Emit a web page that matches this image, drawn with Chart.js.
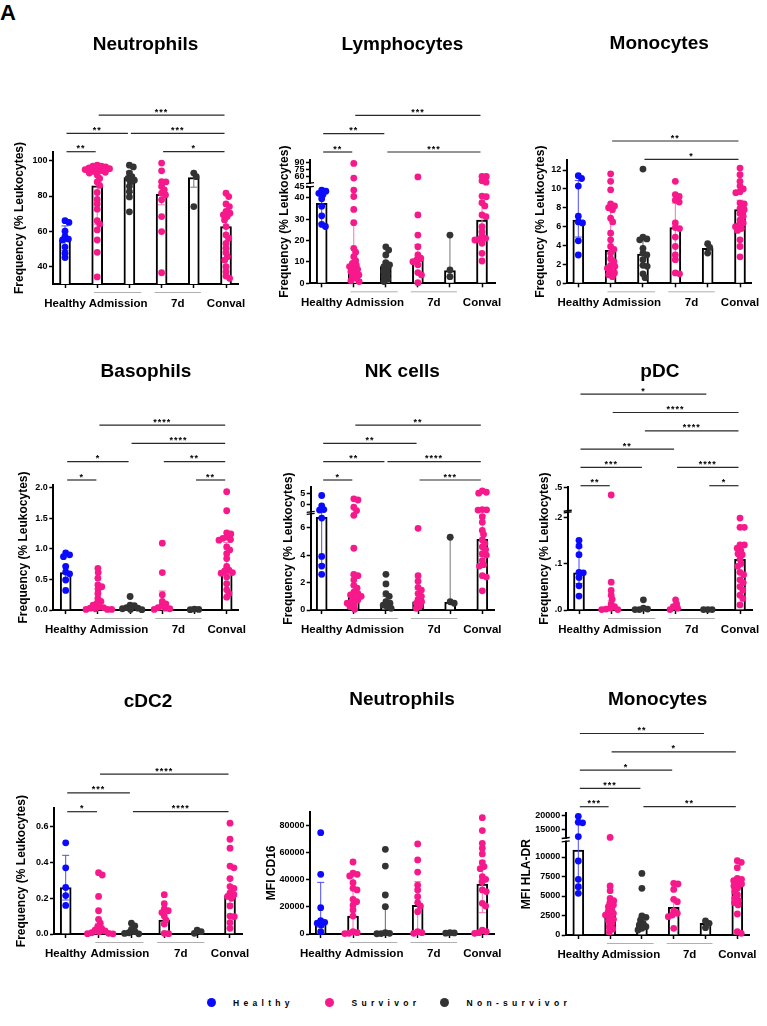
<!DOCTYPE html>
<html><head><meta charset="utf-8">
<script src="https://cdn.jsdelivr.net/npm/chart.js@4.4.1/dist/chart.umd.min.js"></script>
<style>
html,body{margin:0;padding:0;background:#fff;}
body{width:767px;height:1026px;position:relative;overflow:hidden;font-family:"Liberation Sans",Arial,Helvetica,sans-serif;}
#panelLabel{position:absolute;left:0;top:2px;font-weight:bold;font-size:22px;line-height:21px;}
.lg{position:absolute;font-weight:bold;font-size:8.5px;letter-spacing:4.3px;line-height:16px;white-space:nowrap;}
.dot{position:absolute;width:9px;height:9px;border-radius:50%;}
</style></head>
<body>
<div id="panelLabel">A</div>
<div class="dot" style="left:207px;top:998px;background:#0a0aff"></div>
<div class="lg" style="left:233px;top:995px">Healthy</div>
<div class="dot" style="left:324.5px;top:998px;background:#f7198b"></div>
<div class="lg" style="left:351.5px;top:995px">Survivor</div>
<div class="dot" style="left:440px;top:998px;background:#333333"></div>
<div class="lg" style="left:466.5px;top:995px">Non-survivor</div>
<script>
// ---------- categories ----------
const groupNames = ['Healthy', 'Admission survivor', 'Admission non-survivor', '7d survivor', '7d non-survivor', 'Conval'];
const xTickValues = [0, 1, 1.65, 2, 3, 3.5, 4, 5];
const xTickLabels = ['Healthy', '', 'Admission', '', '', '7d', '', 'Conval'];
const groupColors = ['#0a0aff', '#f7198b', '#333333', '#f7198b', '#333333', '#f7198b'];
const errColors = ['#4a4aff', '#ff6fb0', '#666666', '#ff6fb0', '#777777', '#ff6fb0'];

// ---------- Neutrophils (frequency) ----------
const neuPoints = [
  [66, 65, 60, 57, 55.5, 55, 51, 47.5, 45],
  [97.5, 97, 97, 96.5, 96, 95.5, 95, 95, 94.5, 94, 93.5, 93, 92, 90, 88, 86, 82, 78, 75.5, 72.5, 66, 64, 60.7, 55, 48, 34],
  [97.5, 96.5, 93, 91, 90, 89, 88, 85.5, 82.5, 79.5, 71],
  [98.7, 94.3, 88.2, 88, 85.4, 83.5, 81.6, 80.6, 77.8, 68.3, 59.8, 36.4],
  [93, 91, 74],
  [81.6, 79.7, 75.5, 74, 71.2, 70.2, 69.3, 68.3, 66.4, 62.6, 57.9, 56, 53, 50.3, 47.8, 45.5, 43.6, 39.8, 37, 34.5, 33.2]
];
const neuMedians = [55, 85.8, 90.5, 81, 90.5, 62.6];
const neuErrors = [[49, 63], [64, 95], [82, 94], [75, 88], [85, 93], [50, 68]];
const neuTicks = [40, 60, 80, 100];
const neuTickLabels = ['40', '60', '80', '100'];
const neuBrackets = [[0, 1, '**', 0], [3, 5, '*', 0], [0, 2, '**', 1], [2, 5, '***', 1], [1, 5, '***', 2]];

// ---------- Lymphocytes ----------
const lymPoints = [
  [43.5, 43, 42, 41.5, 39.5, 36, 31.5, 27.5, 26.5],
  [88.5, 56, 43.5, 40.5, 34.5, 28.3, 16.3, 14.5, 12.4, 10.6, 9.3, 8.5, 7.8, 7, 6.5, 5.4, 4.7, 3.9, 3.1, 2.3, 1.2, 0.8],
  [17, 15.5, 13.2, 9.6, 8.6, 7.8, 6.5, 5.4, 4.4, 3.1, 1.9, 0.8],
  [58.5, 31.9, 22.5, 17.1, 13.2, 11.7, 10.9, 10.1, 8.6, 5, 3.9, 0.3],
  [22.5, 6.2, 3.1],
  [60, 59.5, 50, 47, 40.7, 40.4, 37.6, 36.1, 31.9, 31.1, 26.4, 24.1, 22, 21, 20.5, 20.2, 18.7, 14, 10.4]
];
const lymMedians = [37.3, 7.8, 7.8, 10.9, 5.9, 29.5];
const lymErrors = [[28, 43], [3, 28], [4, 10], [8, 18], [3, 22.5], [20, 37]];
const lymTicks = [0, 10, 20, 30, 40, 45, 60, 75, 90];
const lymTickLabels = ['0', '10', '20', '30', '40', '45', '60', '75', '90'];
const lymBrackets = [[0, 1, '**', 0], [2, 5, '***', 0], [0, 2, '**', 1], [1, 5, '***', 2]];

// ---------- Monocytes (frequency) ----------
const monPoints = [
  [11.4, 11.1, 10.3, 7.1, 6.5, 6.4, 4.5, 3],
  [11.6, 10.8, 9.9, 8.4, 8.2, 8, 7.8, 6.9, 6.5, 5.3, 4.6, 3.9, 3.6, 3.2, 2.6, 2.3, 1.9, 1.8, 1.6, 1.3, 1.1, 0.9, 0.7],
  [12.1, 4.9, 4.7, 4.6, 3.7, 3.2, 3, 2.5, 1.9, 1.8, 1, 0.6],
  [10.8, 9.4, 9.2, 8.8, 8.6, 6.4, 5.9, 5.8, 4.9, 3.9, 3, 2.5, 1.1, 1],
  [4.2, 3.8, 3.2],
  [12.2, 11.5, 10.8, 10.3, 10, 9.7, 9.6, 8.5, 8.4, 7.9, 7.8, 7.4, 7.1, 6.7, 6.4, 6.2, 6, 5.8, 5.6, 4.6, 3.9, 2.8]
];
const monMedians = [6.7, 3.5, 3.1, 5.9, 3.7, 7.8];
const monErrors = [[4.9, 10.9], [1.7, 8], [1.9, 4.5], [2.5, 8.5], [3.2, 4.1], [6, 8.8]];
const monTicks = [0, 2, 4, 6, 8, 10, 12];
const monTickLabels = ['0', '2', '4', '6', '8', '10', '12'];
const monBrackets = [[2, 5, '*', 0], [1, 5, '**', 1]];

// ---------- Basophils ----------
const basPoints = [
  [0.93, 0.9, 0.87, 0.71, 0.62, 0.59, 0.49, 0.32],
  [0.68, 0.61, 0.52, 0.41, 0.38, 0.34, 0.27, 0.19, 0.14, 0.11, 0.08, 0.05, 0.04, 0.03, 0.02, 0.01, 0.01, 0.01],
  [0.22, 0.08, 0.07, 0.04, 0.03, 0.02, 0.01, 0.005],
  [1.09, 0.61, 0.25, 0.14, 0.1, 0.07, 0.04, 0.03, 0.02, 0.01],
  [0.015, 0.01, 0.005],
  [1.93, 1.62, 1.26, 1.24, 1.19, 1.17, 1.15, 1.14, 1.03, 0.98, 0.92, 0.84, 0.71, 0.65, 0.64, 0.61, 0.6, 0.54, 0.43, 0.33, 0.27, 0.21]
];
const basMedians = [0.61, 0.05, 0.03, 0.06, 0.01, 0.65];
const basErrors = [[0.5, 0.72], [0.01, 0.35], [0.01, 0.06], [0.01, 0.31], [0.005, 0.015], [0.6, 1.1]];
const basTicks = [0, 0.5, 1, 1.5, 2];
const basTickLabels = ['0.0', '0.5', '1.0', '1.5', '2.0'];
const basBrackets = [[0, 1, '*', 0], [4, 5, '**', 0], [0, 2, '*', 1], [3, 5, '**', 1], [2, 5, '****', 2], [1, 5, '****', 3]];

// ---------- NK cells ----------
const nkPoints = [
  [14, 9.6, 8, 7.8, 6.7, 3.9, 3.2, 2.6],
  [12.6, 12.1, 9, 7.6, 6.9, 4.5, 2.6, 2.5, 2.2, 1.8, 1.6, 1.3, 1.2, 1.1, 1, 0.85, 0.73, 0.6, 0.49, 0.36, 0.24, 0.05],
  [2.6, 1.9, 1.2, 1, 0.6, 0.49, 0.36, 0.24, 0.12],
  [5.95, 2.5, 2.1, 1.65, 1.45, 1.2, 1, 0.78, 0.6, 0.49, 0.3, 0.12],
  [5.3, 0.6, 0.49],
  [16, 15.4, 15, 8, 7.9, 7.8, 6.8, 6.4, 5.8, 5.5, 5.1, 4.85, 4.6, 4.4, 4.1, 4, 3.6, 3.3, 3.2, 2.5, 2.4, 1.4]
];
const nkMedians = [6.75, 1.2, 0.44, 0.6, 0.56, 5.15];
const nkErrors = [[3.3, 8], [0.5, 2.5], [0.24, 1], [0.3, 1.5], [0.49, 5.3], [3.9, 6.9]];
const nkTicks = [0, 2, 4, 6, 10, 15];
const nkTickLabels = ['0', '2', '4', '6', '0', '5'];
const nkBrackets = [[0, 1, '*', 0], [3, 5, '***', 0], [0, 2, '**', 1], [2, 5, '****', 1], [0, 3, '**', 2], [1, 5, '**', 3]];

// ---------- pDC ----------
const pdcPoints = [
  [0.15, 0.138, 0.119, 0.081, 0.08, 0.07, 0.052, 0.03],
  [0.405, 0.06, 0.042, 0.032, 0.023, 0.013, 0.007, 0.004, 0.002, 0.001, 0.001],
  [0.022, 0.004, 0.002, 0.001, 0.001],
  [0.022, 0.013, 0.007, 0.004, 0.001],
  [0.001, 0.001, 0.001],
  [0.198, 0.178, 0.178, 0.14, 0.14, 0.133, 0.128, 0.121, 0.119, 0.109, 0.1, 0.094, 0.081, 0.076, 0.065, 0.059, 0.05, 0.043, 0.032, 0.025, 0.011]
];
const pdcMedians = [0.08, 0.005, 0.002, 0.003, 0.001, 0.109];
const pdcErrors = [[0.057, 0.135], [0.001, 0.02], [0.001, 0.004], [0.001, 0.007], [0.001, 0.001], [0.093, 0.125]];
const pdcTicks = [0, 0.1, 0.2, 0.5];
const pdcTickLabels = ['.0', '.1', '.2', '.5'];
const pdcBrackets = [[0, 1, '**', 0], [4, 5, '*', 0], [0, 2, '***', 1], [3, 5, '****', 1], [0, 3, '**', 2], [2, 5, '****', 3], [1, 5, '****', 4], [0, 4, '*', 5]];

// ---------- cDC2 ----------
const cdcPoints = [
  [0.51, 0.37, 0.26, 0.215, 0.16],
  [0.343, 0.33, 0.21, 0.13, 0.082, 0.06, 0.041, 0.032, 0.022, 0.017, 0.013, 0.007, 0.004, 0.002, 0.001],
  [0.06, 0.045, 0.026, 0.013, 0.007, 0.003, 0.001],
  [0.22, 0.17, 0.14, 0.13, 0.12, 0.1, 0.078, 0.056, 0.004, 0.002],
  [0.022, 0.013, 0.004],
  [0.62, 0.53, 0.48, 0.38, 0.37, 0.31, 0.265, 0.255, 0.23, 0.22, 0.21, 0.2, 0.157, 0.1, 0.097, 0.063, 0.032]
];
const cdcMedians = [0.26, 0.012, 0.005, 0.078, 0.01, 0.215];
const cdcErrors = [[0.19, 0.44], [0.002, 0.06], [0.001, 0.02], [0.05, 0.13], [0.004, 0.013], [0.17, 0.31]];
const cdcTicks = [0, 0.2, 0.4, 0.6];
const cdcTickLabels = ['0.0', '0.2', '0.4', '0.6'];
const cdcBrackets = [[0, 1, '*', 0], [2, 5, '****', 0], [0, 2, '***', 1], [1, 5, '****', 2]];

// ---------- Neutrophils MFI CD16 ----------
const cd16Points = [
  [74600, 43900, 19400, 9800, 8600, 7900, 6600, 1700],
  [53000, 44700, 43900, 42700, 37800, 33600, 32400, 25500, 23800, 21300, 17700, 13200, 1700, 1000, 500, 300],
  [62300, 50000, 28700, 20100, 1000, 500, 300, 200],
  [66300, 54500, 45600, 36000, 32400, 27500, 23100, 20600, 16400, 1700, 1000, 500],
  [1000, 800, 600],
  [85600, 76100, 66700, 63100, 58900, 52500, 49600, 48100, 42200, 40200, 38500, 32400, 31200, 22600, 20600, 2900, 1700, 1000, 500]
];
const cd16Medians = [8300, 13200, 500, 21100, 800, 36800];
const cd16Errors = [[5000, 38000], [1000, 43000], [300, 20000], [2000, 38500], [600, 1000], [15700, 53700]];
const cd16Ticks = [0, 20000, 40000, 60000, 80000];
const cd16TickLabels = ['0', '20000', '40000', '60000', '80000'];
const cd16Brackets = [];

// ---------- Monocytes MFI HLA-DR ----------
const hlaPoints = [
  [19550, 17500, 17270, 12500, 9490, 7140, 6200, 5340],
  [12200, 6280, 5680, 4700, 4400, 4150, 3850, 3630, 3290, 2990, 2780, 2560, 2350, 2010, 1840, 1500, 1070, 770, 430],
  [7900, 5980, 2440, 2260, 1920, 1500, 1280, 1070, 850, 640],
  [6620, 6540, 5850, 4570, 4270, 3080, 2780, 2560, 2350, 850],
  [1800, 1500, 940],
  [9530, 9320, 8630, 7260, 7140, 6960, 6620, 6540, 6280, 5980, 5560, 5130, 4700, 4400, 4150, 3850, 2690, 430, 210]
];
const hlaMedians = [10900, 2560, 1410, 3550, 1500, 6110];
const hlaErrors = [[6000, 17500], [1700, 3900], [800, 2300], [2800, 4500], [940, 1800], [4400, 6900]];
const hlaTicks = [0, 2500, 5000, 7500, 10000, 15000, 20000];
const hlaTickLabels = ['0', '2500', '5000', '7500', '10000', '15000', '20000'];
const hlaBrackets = [[0, 1, '***', 0], [2, 5, '**', 0], [0, 2, '***', 1], [0, 3, '*', 2], [1, 5, '*', 3], [0, 4, '**', 4]];

// ---------- layout (pixels) ----------
const colX = [0, 250, 505], colW = [250, 255, 262];
const rowY = [0, 318, 645], rowH = [318, 327, 345];
const FREQ = 'Frequency (% Leukocytes)';

const panels = [
  {id: 'neu', title: 'Neutrophils', yTitle: FREQ, col: 0, row: 0, titleY: 45, yTitleX: 20, axisX: 53, axisRight: 238, healthyX: 65, convalX: 226, areaTop: 152, areaBottom: 284, yMin: 30, yMax: 105,
   points: neuPoints, medians: neuMedians, errors: neuErrors, ticks: neuTicks, tickLabels: neuTickLabels, brackets: neuBrackets, bracketBase: 151.7, bracketGap: 18.3},
  {id: 'lym', title: 'Lymphocytes', yTitle: FREQ, col: 1, row: 0, titleY: 45, yTitleX: 285, axisX: 310, axisRight: 495, healthyX: 321.7, convalX: 482, areaTop: 160, areaBottom: 283.3,
   segments: [[0, 45, 0, 0.782], [45, 96, 0.813, 1]],
   points: lymPoints, medians: lymMedians, errors: lymErrors, ticks: lymTicks, tickLabels: lymTickLabels, brackets: lymBrackets, bracketBase: 152, bracketGap: 18.3},
  {id: 'mon', title: 'Monocytes', yTitle: FREQ, col: 2, row: 0, titleY: 44, yTitleX: 541, axisX: 566.7, axisRight: 751.7, healthyX: 578.3, convalX: 740, areaTop: 160, areaBottom: 283.3, yMin: 0, yMax: 13.06,
   points: monPoints, medians: monMedians, errors: monErrors, ticks: monTicks, tickLabels: monTickLabels, brackets: monBrackets, bracketBase: 159.3, bracketGap: 18.3},
  {id: 'bas', title: 'Basophils', yTitle: FREQ, col: 0, row: 1, titleY: 371.7, yTitleX: 23.3, axisX: 53.3, axisRight: 238.7, healthyX: 65.7, convalX: 226.7, areaTop: 485, areaBottom: 610, yMin: 0, yMax: 2.04,
   points: basPoints, medians: basMedians, errors: basErrors, ticks: basTicks, tickLabels: basTickLabels, brackets: basBrackets, bracketBase: 480, bracketGap: 18.3},
  {id: 'nk', title: 'NK cells', yTitle: FREQ, col: 1, row: 1, titleY: 371.7, yTitleX: 288.3, axisX: 310.7, axisRight: 494, healthyX: 321.7, convalX: 482.3, areaTop: 487.3, areaBottom: 610,
   segments: [[0, 7, 0, 0.783], [7, 17.5, 0.799, 1]],
   points: nkPoints, medians: nkMedians, errors: nkErrors, ticks: nkTicks, tickLabels: nkTickLabels, brackets: nkBrackets, bracketBase: 480, bracketGap: 18.3},
  {id: 'pdc', title: 'pDC', yTitle: FREQ, col: 2, row: 1, titleY: 371.7, yTitleX: 545, axisX: 567.7, axisRight: 752, healthyX: 579, convalX: 740, areaTop: 487.3, areaBottom: 610,
   segments: [[0, 0.21, 0, 0.795], [0.21, 0.5, 0.809, 1]],
   points: pdcPoints, medians: pdcMedians, errors: pdcErrors, ticks: pdcTicks, tickLabels: pdcTickLabels, brackets: pdcBrackets, bracketBase: 485.7, bracketGap: 18.3},
  {id: 'cdc', title: 'cDC2', yTitle: FREQ, col: 0, row: 2, titleY: 701.7, yTitleX: 21.7, axisX: 54, axisRight: 242, healthyX: 65.7, convalX: 230, areaTop: 808.3, areaBottom: 934, yMin: 0, yMax: 0.703,
   points: cdcPoints, medians: cdcMedians, errors: cdcErrors, ticks: cdcTicks, tickLabels: cdcTickLabels, brackets: cdcBrackets, bracketBase: 811.7, bracketGap: 18.8},
  {id: 'cd16', title: 'Neutrophils', yTitle: 'MFI CD16', col: 1, row: 2, titleY: 700, yTitleX: 271.7, axisX: 310, axisRight: 494, healthyX: 320.7, convalX: 482.3, areaTop: 811.7, areaBottom: 934, yMin: 0, yMax: 90000,
   points: cd16Points, medians: cd16Medians, errors: cd16Errors, ticks: cd16Ticks, tickLabels: cd16TickLabels, brackets: cd16Brackets, bracketBase: 800, bracketGap: 18.3},
  {id: 'hla', title: 'Monocytes', yTitle: 'MFI HLA-DR', col: 2, row: 2, titleY: 700, yTitleX: 526.7, axisX: 565.7, axisRight: 749.5, healthyX: 578.3, convalX: 737.3, areaTop: 813.3, areaBottom: 935,
   segments: [[0, 12000, 0, 0.769], [12000, 20600, 0.797, 1]],
   points: hlaPoints, medians: hlaMedians, errors: hlaErrors, ticks: hlaTicks, tickLabels: hlaTickLabels, brackets: hlaBrackets, bracketBase: 806.7, bracketGap: 18.3}
];

// ---------- library setup ----------
const FONT = '"Liberation Sans", Arial, Helvetica, sans-serif';
Chart.defaults.font.family = FONT;
Chart.defaults.color = '#000';
const panelById = {};
const POINT_R = 3.4;

class BrokenScale extends Chart.LinearScale {
  static id = 'broken';
  static defaults = Chart.LinearScale.defaults;
  _segs() { return panelById[this.chart.canvas.id].segments; }
  getPixelForValue(value) {
    if (value === null || value === undefined || isNaN(value)) return NaN;
    const segs = this._segs();
    let s = segs[segs.length - 1];
    for (const seg of segs) { if (value <= seg[1]) { s = seg; break; } }
    const dec = s[2] + (value - s[0]) / (s[1] - s[0]) * (s[3] - s[2]);
    return this.getPixelForDecimal(dec);
  }
  getValueForPixel(pixel) {
    const dec = this.getDecimalForPixel(pixel);
    const segs = this._segs();
    let s = segs[segs.length - 1];
    for (const seg of segs) { if (dec <= seg[3]) { s = seg; break; } }
    return s[0] + (dec - s[2]) / (s[3] - s[2]) * (s[1] - s[0]);
  }
}
Chart.register(BrokenScale);

const overlayPlugin = {
  id: 'overlay',
  afterDatasetDraw(chart, args) {
    if (args.index !== 0) return;
    const p = panelById[chart.canvas.id];
    const ctx = chart.ctx, xs = chart.scales.x, ys = chart.scales.y;
    ctx.save();
    ctx.lineWidth = 1;
    p.errors.forEach(([lo, hi], g) => {
      const x = xs.getPixelForValue(g), y1 = ys.getPixelForValue(lo), y2 = ys.getPixelForValue(hi);
      ctx.strokeStyle = errColors[g];
      ctx.beginPath();
      ctx.moveTo(x, y1); ctx.lineTo(x, y2);
      ctx.moveTo(x - 3.5, y1); ctx.lineTo(x + 3.5, y1);
      ctx.moveTo(x - 3.5, y2); ctx.lineTo(x + 3.5, y2);
      ctx.stroke();
    });
    ctx.restore();
  },
  afterDraw(chart) {
    const p = panelById[chart.canvas.id];
    const ctx = chart.ctx, xs = chart.scales.x, ys = chart.scales.y;
    const y0 = rowY[p.row];
    const area = chart.chartArea;
    ctx.save();
    // group underline (Admission / 7d)
    ctx.strokeStyle = '#b0b0b0'; ctx.lineWidth = 1;
    [[0.9, 2.37], [2.78, 4.22]].forEach(([a, b]) => {
      ctx.beginPath();
      ctx.moveTo(xs.getPixelForValue(a), area.bottom + 8.5);
      ctx.lineTo(xs.getPixelForValue(b), area.bottom + 8.5);
      ctx.stroke();
    });
    // axis breaks
    if (p.segments) {
      for (let i = 0; i < p.segments.length - 1; i++) {
        const yA = ys.getPixelForDecimal(p.segments[i][3]);
        const yB = ys.getPixelForDecimal(p.segments[i + 1][2]);
        ctx.fillStyle = '#fff';
        ctx.fillRect(area.left - 2, yB + 0.8, 4, yA - yB - 1.6);
        ctx.strokeStyle = '#000'; ctx.lineWidth = 1.3;
        ctx.beginPath();
        ctx.moveTo(area.left - 4, yA + 0.5); ctx.lineTo(area.left + 4, yA - 0.5);
        ctx.moveTo(area.left - 4, yB + 0.5); ctx.lineTo(area.left + 4, yB - 0.5);
        ctx.stroke();
      }
    }
    // significance brackets
    ctx.strokeStyle = '#2a2a2a'; ctx.lineWidth = 1.2;
    ctx.fillStyle = '#000';
    ctx.font = 'bold 9px ' + FONT;
    ctx.textAlign = 'center'; ctx.textBaseline = 'alphabetic';
    if ('letterSpacing' in ctx) ctx.letterSpacing = '1px';
    p.brackets.forEach(([a, b, label, level]) => {
      const y = p.bracketBase - y0 - level * p.bracketGap;
      const xa = xs.getPixelForValue(a) + 1.5, xb = xs.getPixelForValue(b) - 1.5;
      ctx.beginPath(); ctx.moveTo(xa, y); ctx.lineTo(xb, y); ctx.stroke();
      ctx.fillText(label, (xa + xb) / 2, y - 0.5);
    });
    ctx.restore();
  }
};

function makeChart(p) {
  panelById[p.id] = p;
  const W = colW[p.col], H = rowH[p.row], x0 = colX[p.col], y0 = rowY[p.row];
  const canvas = document.createElement('canvas');
  canvas.id = p.id; canvas.width = W; canvas.height = H;
  canvas.style.cssText = `position:absolute;left:${x0}px;top:${y0}px;width:${W}px;height:${H}px`;
  document.body.appendChild(canvas);
  const step = (p.convalX - p.healthyX) / 5;
  const xMin = -(p.healthyX - p.axisX) / step, xMax = (p.axisRight - p.healthyX) / step;
  const titleRel = p.titleY - y0, areaTopRel = p.areaTop - y0, areaBottomRel = p.areaBottom - y0;
  const yMin = p.segments ? p.segments[0][0] : p.yMin;
  const yMax = p.segments ? p.segments[p.segments.length - 1][1] : p.yMax;
  const datasets = [{
    type: 'bar', label: 'median', data: p.medians.map((v, i) => ({x: i, y: v})),
    backgroundColor: '#ffffff', borderColor: '#000000', borderWidth: 2, barThickness: 11, order: 10
  }];
  p.points.forEach((arr, g) => datasets.push({
    type: 'scatter', label: groupNames[g], data: arr.map(v => ({x: g, y: v})),
    backgroundColor: groupColors[g], borderColor: groupColors[g], borderWidth: 0,
    pointRadius: POINT_R, pointHoverRadius: POINT_R, order: 0, clip: false
  }));
  const tickColorFn = c => (c.tick && Number.isInteger(c.tick.value)) ? '#000' : 'rgba(0,0,0,0)';
  return new Chart(canvas, {
    type: 'bar',
    data: {datasets},
    options: {
      responsive: false, animation: false, events: [],
      devicePixelRatio: 1,
      layout: {padding: {left: 0, top: 0, bottom: 0, right: W - (p.axisRight - x0)}},
      plugins: {
        legend: {display: false}, tooltip: {enabled: false},
        title: {display: true, text: p.title, fullSize: false, color: '#000',
          font: {size: 19, weight: 'bold', family: FONT, lineHeight: 1.2},
          padding: {top: titleRel - 11.4, bottom: areaTopRel - titleRel - 11.4}}
      },
      scales: {
        x: {
          type: 'linear', min: xMin, max: xMax, offset: false,
          afterBuildTicks: s => { s.ticks = xTickValues.map(v => ({value: v})); },
          afterFit: s => { s.height = H - areaBottomRel; s.paddingLeft = 0; s.paddingRight = 0; },
          border: {display: true, color: '#000', width: 2},
          grid: {display: true, drawOnChartArea: false, drawTicks: true, tickLength: 4, tickWidth: 1.5, offset: false, tickColor: tickColorFn},
          ticks: {autoSkip: false, maxRotation: 0, minRotation: 0, padding: 9, color: '#000',
            font: {size: 11.5, weight: 'bold', family: FONT}, callback: (v, i) => xTickLabels[i]}
        },
        y: {
          type: p.segments ? 'broken' : 'linear', min: yMin, max: yMax,
          afterBuildTicks: s => { s.ticks = p.ticks.map(v => ({value: v})); },
          afterFit: s => { s.width = p.axisX - x0; s.paddingTop = 0; s.paddingBottom = 0; },
          border: {display: true, color: '#000', width: 2},
          grid: {display: true, drawOnChartArea: false, drawTicks: true, tickLength: 4, tickWidth: 1.5, tickColor: '#000'},
          ticks: {autoSkip: false, padding: 1.5, color: '#000',
            font: {size: 9, weight: 'bold', family: FONT}, callback: (v, i) => p.tickLabels[i]},
          title: {display: true, text: p.yTitle, color: '#000',
            font: {size: 12, weight: 'bold', family: FONT, lineHeight: 1.2},
            padding: {top: p.yTitleX - x0 - 7.2, bottom: 0}}
        }
      }
    },
    plugins: [overlayPlugin]
  });
}

// deterministic beeswarm spreading of points, computed through the chart's scales
function swarm(chart) {
  const xs = chart.scales.x, ys = chart.scales.y;
  const step = xs.getPixelForValue(1) - xs.getPixelForValue(0);
  const D = 4.3;
  chart.data.datasets.forEach((ds, di) => {
    if (di === 0) return;
    const g = di - 1;
    const pts = ds.data.map((pt, i) => ({i, py: ys.getPixelForValue(pt.y), px: 0}));
    pts.sort((a, b) => a.py - b.py);
    const placed = [];
    for (const pt of pts) {
      const cands = [0];
      for (const q of placed) {
        const dy = pt.py - q.py;
        if (Math.abs(dy) < D) { const dx = Math.sqrt(D * D - dy * dy); cands.push(q.px + dx, q.px - dx); }
      }
      cands.sort((a, b) => Math.abs(a) - Math.abs(b));
      for (const c of cands) {
        if (placed.every(q => (c - q.px) ** 2 + (pt.py - q.py) ** 2 >= D * D - 0.01)) { pt.px = c; break; }
      }
      placed.push(pt);
    }
    pts.forEach(pt => { ds.data[pt.i].x = g + pt.px / step; });
  });
  chart.update('none');
}

const charts = panels.map(makeChart);
charts.forEach(swarm);
</script>
</body></html>
